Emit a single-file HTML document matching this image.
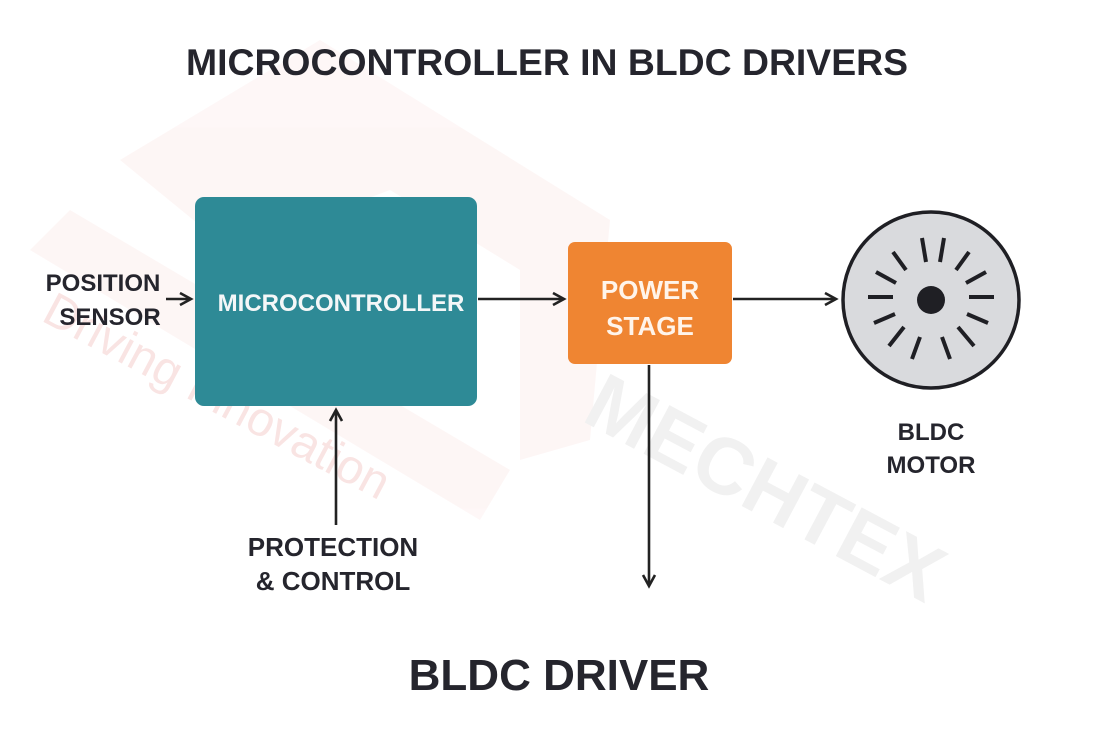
<!DOCTYPE html>
<html><head><meta charset="utf-8"><style>
html,body{margin:0;padding:0;background:#fff;}
svg{display:block;}
text{font-family:"Liberation Sans",sans-serif;font-weight:bold;fill:#25252d;}
</style></head><body>
<svg width="1094" height="740" viewBox="0 0 1094 740" xmlns="http://www.w3.org/2000/svg">
<defs>
<marker id="ah" markerWidth="16" markerHeight="16" refX="13" refY="8" orient="auto" markerUnits="userSpaceOnUse">
<path d="M2,2 L13,8 L2,14" fill="none" stroke="#222" stroke-width="2.6"/>
</marker>
</defs>
<!-- watermark -->
<g opacity="0.04" fill="#e0302a">
<polygon points="120,160 320,40 610,220 590,440 520,460 520,270 390,190 230,250"/>
<polygon points="30,250 70,210 510,470 480,520"/>
</g>
<text x="40" y="320" transform="rotate(28 40 320)" font-size="48" style="fill:#f9e4e3;font-weight:normal">Driving Innovation</text>
<text x="580" y="420" transform="rotate(28 580 420)" font-size="80" style="fill:#f1f1f1">MECHTEX</text>

<text x="547" y="75" text-anchor="middle" font-size="37" textLength="722" lengthAdjust="spacingAndGlyphs">MICROCONTROLLER IN BLDC DRIVERS</text>

<rect x="195" y="197" width="282" height="209" rx="9" fill="#2e8a96"/>
<text x="341" y="311" text-anchor="middle" font-size="24" style="fill:#f4f7f8">MICROCONTROLLER</text>

<rect x="568" y="242" width="164" height="122" rx="7" fill="#ef8532"/>
<text x="650" y="299" text-anchor="middle" font-size="26" style="fill:#fff4ea">POWER</text>
<text x="650" y="335" text-anchor="middle" font-size="26" style="fill:#fff4ea">STAGE</text>

<text x="103" y="291" text-anchor="middle" font-size="24">POSITION</text>
<text x="110" y="325" text-anchor="middle" font-size="24">SENSOR</text>

<text x="333" y="556" text-anchor="middle" font-size="26">PROTECTION</text>
<text x="333" y="590" text-anchor="middle" font-size="26">&amp; CONTROL</text>

<text x="931" y="440" text-anchor="middle" font-size="24">BLDC</text>
<text x="931" y="473" text-anchor="middle" font-size="24">MOTOR</text>

<text x="559" y="690" text-anchor="middle" font-size="44">BLDC DRIVER</text>

<g stroke="#222" stroke-width="2.6" fill="none" marker-end="url(#ah)">
<line x1="166" y1="299" x2="191" y2="299"/>
<line x1="478" y1="299" x2="564" y2="299"/>
<line x1="733" y1="299" x2="836" y2="299"/>
<line x1="649" y1="365" x2="649" y2="586"/>
<line x1="336" y1="525" x2="336" y2="410"/>
</g>

<circle cx="931" cy="300" r="88" fill="#d9dadd" stroke="#1f1f24" stroke-width="3.5"/>
<circle cx="931" cy="300" r="14" fill="#1f1f24"/>
<g stroke="#1f1f24" stroke-width="4" stroke-linecap="butt">
<line x1="893" y1="297" x2="868" y2="297"/>
<line x1="969" y1="297" x2="994" y2="297"/>
<line x1="926" y1="262" x2="922" y2="238"/>
<line x1="940" y1="262" x2="944" y2="238"/>
<line x1="906" y1="270" x2="893" y2="252"/>
<line x1="956" y1="270" x2="969" y2="252"/>
<line x1="896" y1="283" x2="876" y2="272"/>
<line x1="966" y1="283" x2="986" y2="272"/>
<line x1="895" y1="314" x2="874" y2="323"/>
<line x1="967" y1="314" x2="988" y2="323"/>
<line x1="904" y1="327" x2="889" y2="346"/>
<line x1="958" y1="327" x2="974" y2="346"/>
<line x1="920" y1="337" x2="912" y2="359"/>
<line x1="942" y1="337" x2="950" y2="359"/>
</g>
</svg>
</body></html>
